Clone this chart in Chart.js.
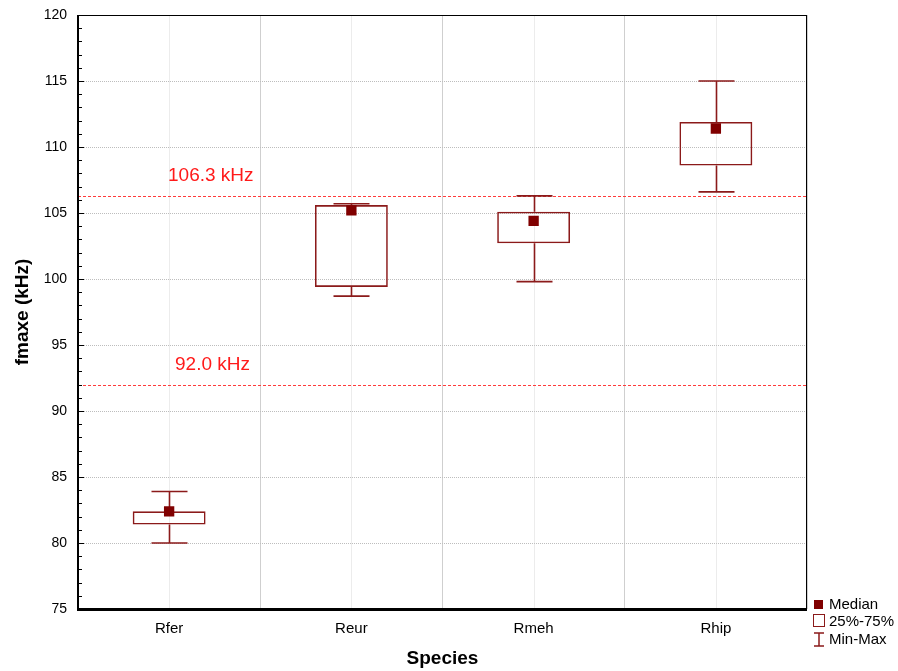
<!DOCTYPE html>
<html>
<head>
<meta charset="utf-8">
<script src="https://cdn.jsdelivr.net/npm/chart.js@4"></script>
<style>
html,body{margin:0;padding:0;background:#fff;}
#wrap{width:898px;height:671px;}
</style>
</head>
<body>
<div id="wrap"><canvas id="c" width="898" height="671"></canvas></div>
<script>
const categories = ['Rfer', 'Reur', 'Rmeh', 'Rhip'];
const minVals    = [80.0, 98.7, 99.8, 106.6];
const q1Vals     = [81.4, 99.4, 102.7, 108.6];
const medianVals = [82.4, 105.2, 104.4, 111.4];
const q3Vals     = [82.4, 105.6, 105.1, 111.9];
const maxVals    = [83.9, 105.7, 106.3, 115.0];
const refValues  = [106.3, 92.0];
const refLabels  = ['106.3 kHz', '92.0 kHz'];
const yTicks     = [75, 80, 85, 90, 95, 100, 105, 110, 115, 120];
const legendLabels = ['Median', '25%-75%', 'Min-Max'];

const BOX = '#8b1a1a';
const MED = '#800000';
const FONT = '"Liberation Sans", Arial, sans-serif';

const extras = {
  id: 'extras',
  beforeDatasetsDraw(chart) {
    const ctx = chart.ctx, a = chart.chartArea;
    const x = chart.scales.x, y = chart.scales.y;
    ctx.save();
    // faint center lines
    ctx.strokeStyle = 'rgba(200,200,200,0.35)';
    ctx.lineWidth = 1;
    categories.forEach((c, i) => {
      const px = Math.round(x.getPixelForValue(i)) + 0.5;
      ctx.beginPath(); ctx.moveTo(px, a.top); ctx.lineTo(px, a.bottom); ctx.stroke();
    });
    // reference lines
    ctx.lineWidth = 1.2;
    ctx.strokeStyle = '#ff3b3b';
    ctx.setLineDash([3, 2]);
    refValues.forEach(v => {
      const py = Math.round(y.getPixelForValue(v)) + 0.5;
      ctx.beginPath(); ctx.moveTo(a.left, py); ctx.lineTo(a.right, py); ctx.stroke();
    });
    ctx.setLineDash([]);
    ctx.fillStyle = '#ff1a1a';
    ctx.font = '19px ' + FONT;
    ctx.textBaseline = 'alphabetic';
    ctx.textAlign = 'left';
    refValues.forEach((v, i) => {
      const py = y.getPixelForValue(v);
      ctx.fillText(refLabels[i], i === 0 ? 168 : 175, py - 15);
    });
    // whiskers
    ctx.strokeStyle = BOX;
    ctx.lineWidth = 1.6;
    categories.forEach((c, i) => {
      const cx = Math.round(x.getPixelForValue(i)) + 0.5;
      const capW = 18;
      const pMin = y.getPixelForValue(minVals[i]), pMax = y.getPixelForValue(maxVals[i]);
      const pQ1 = y.getPixelForValue(q1Vals[i]), pQ3 = y.getPixelForValue(q3Vals[i]);
      ctx.beginPath();
      ctx.moveTo(cx, pQ1); ctx.lineTo(cx, pMin);
      ctx.moveTo(cx, pQ3); ctx.lineTo(cx, pMax);
      ctx.moveTo(cx - capW, pMin); ctx.lineTo(cx + capW, pMin);
      ctx.moveTo(cx - capW, pMax); ctx.lineTo(cx + capW, pMax);
      ctx.stroke();
    });
    ctx.restore();
  },
  afterDraw(chart) {
    const ctx = chart.ctx, a = chart.chartArea;
    const y = chart.scales.y;
    ctx.save();
    // frame
    ctx.strokeStyle = '#000';
    ctx.lineWidth = 1;
    ctx.strokeRect(a.left + 0.5, a.top + 0.5, a.right - a.left - 1, a.bottom - a.top - 1);
    ctx.lineWidth = 2;
    ctx.beginPath();
    ctx.moveTo(a.left, a.top); ctx.lineTo(a.left, a.bottom + 1); ctx.lineTo(a.right, a.bottom + 1);
    ctx.stroke();
    // y minor ticks inside
    ctx.lineWidth = 1;
    for (let v = 75; v <= 120; v++) {
      const py = Math.round(y.getPixelForValue(v)) + 0.5;
      const len = (v % 5 === 0) ? 6 : 4;
      ctx.beginPath(); ctx.moveTo(a.left, py); ctx.lineTo(a.left + len, py); ctx.stroke();
    }
    // legend
    const lx = 813;
    ctx.font = '15px ' + FONT;
    ctx.textBaseline = 'middle';
    ctx.textAlign = 'left';
    ctx.fillStyle = MED;
    ctx.fillRect(lx + 1, 600, 9, 9);
    ctx.strokeStyle = BOX; ctx.lineWidth = 1;
    ctx.strokeRect(lx + 0.5, 614.5, 11, 12);
    ctx.lineWidth = 1.5;
    ctx.beginPath();
    ctx.moveTo(lx + 6, 633); ctx.lineTo(lx + 6, 646);
    ctx.moveTo(lx + 1, 633); ctx.lineTo(lx + 11, 633);
    ctx.moveTo(lx + 1, 646); ctx.lineTo(lx + 11, 646);
    ctx.stroke();
    ctx.fillStyle = '#000';
    ctx.fillText(legendLabels[0], 829, 605);
    ctx.fillText(legendLabels[1], 829, 622);
    ctx.fillText(legendLabels[2], 829, 640);
    ctx.restore();
  }
};

new Chart(document.getElementById('c'), {
  type: 'bar',
  data: {
    labels: categories,
    datasets: [
      {
        type: 'bar',
        label: '25%-75%',
        data: q1Vals.map((q, i) => [q, q3Vals[i]]),
        backgroundColor: 'rgba(255,255,255,0)',
        borderColor: BOX,
        borderWidth: 1.6,
        borderSkipped: false,
        barPercentage: 0.4,
        categoryPercentage: 1.0,
        order: 2
      },
      {
        type: 'line',
        label: 'Median',
        data: medianVals,
        showLine: false,
        pointStyle: 'rect',
        pointRadius: 7.3,
        pointHoverRadius: 7.3,
        pointBackgroundColor: MED,
        pointBorderColor: MED,
        pointBorderWidth: 0,
        order: 1
      }
    ]
  },
  options: {
    responsive: false,
    animation: false,
    events: [],
    layout: { padding: { left: 0, right: 91, top: 15, bottom: 0 } },
    plugins: { legend: { display: false }, tooltip: { enabled: false } },
    scales: {
      x: {
        offset: true,
        grid: { display: true, offset: true, color: '#cfcfcf', drawTicks: false, lineWidth: 1 },
        border: { display: false },
        ticks: { color: '#000', font: { family: FONT, size: 15 }, padding: 11 },
        title: { display: true, text: 'Species', color: '#000', font: { family: FONT, size: 19, weight: 'bold' }, padding: { top: 4, bottom: 1 } },
        afterFit(s) { s.height = 62; s.paddingLeft = 0; s.paddingRight = 0; }
      },
      y: {
        min: 75, max: 120,
        afterBuildTicks(s) { s.ticks = yTicks.map(v => ({ value: v })); },
        grid: { color: '#bdbdbd', drawTicks: false, lineWidth: 1 },
        border: { display: false, dash: [1, 1] },
        ticks: { color: '#000', font: { family: FONT, size: 14 }, padding: 11 },
        title: { display: true, text: 'fmaxe (kHz)', color: '#000', font: { family: FONT, size: 19, weight: 'bold' }, padding: { top: 11, bottom: 0 } },
        afterFit(s) { s.width = 78; s.paddingTop = 0; s.paddingBottom = 0; }
      }
    }
  },
  plugins: [extras]
});
</script>
</body>
</html>
